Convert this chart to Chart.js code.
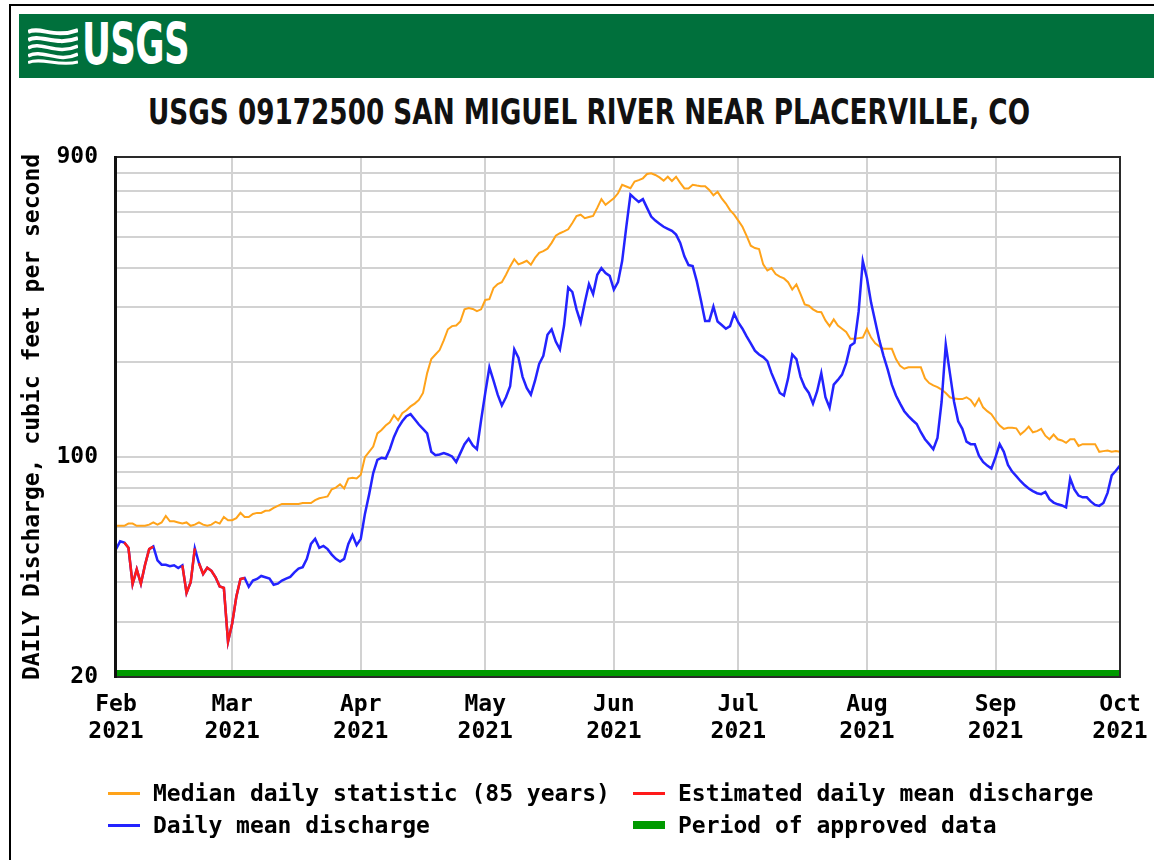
<!DOCTYPE html>
<html><head><meta charset="utf-8">
<script src="https://cdn.jsdelivr.net/npm/chart.js@4.4.0/dist/chart.umd.min.js"></script>
<style>
html,body{margin:0;padding:0;background:#fff;}
body{width:1154px;height:860px;position:relative;overflow:hidden;}
#frame{position:absolute;left:9px;top:4px;width:1200px;height:900px;border-left:2px solid #000;border-top:2px solid #000;}
#header{position:absolute;left:19px;top:14px;width:1135px;height:64px;background:#00703c;}
#logoIcon{position:absolute;left:28px;top:27px;}
#logoText{position:absolute;left:82px;top:16px;color:#fff;font:bold 57px "Liberation Sans Narrow","DejaVu Sans Condensed","Liberation Sans",sans-serif;line-height:1;white-space:nowrap;transform-origin:left top;letter-spacing:-1px;}
#title{position:absolute;left:148px;top:94px;color:#111;font:bold 36px "Liberation Sans Narrow","DejaVu Sans Condensed","Liberation Sans",sans-serif;line-height:1;white-space:nowrap;transform-origin:left top;}
#chart{position:absolute;left:0;top:0;}
#legend{position:absolute;left:108px;top:777px;width:1000px;font:bold 23px "DejaVu Sans Mono",monospace;color:#000;}
.lrow{display:flex;height:32px;line-height:32px;}
.litem{display:flex;align-items:center;white-space:nowrap;}
.litem:first-child{width:525px;}
.sw{width:32px;margin-right:13px;}
</style></head>
<body>
<div id="frame"></div>
<div id="header"></div>
<svg id="logoIcon" width="50" height="38" viewBox="0 0 50 38">
  <g fill="none" stroke="#fff" stroke-linecap="butt">
    <path d="M0 5 C12 -1 26 12 50 3" stroke-width="4"/>
    <path d="M0 13 C12 6 27 20 50 11" stroke-width="4"/>
    <path d="M0 21 C13 13 28 29 50 19" stroke-width="3.5"/>
    <path d="M0 29 C14 21 30 37 50 27" stroke-width="3.5"/>
    <path d="M0 35.5 C14 30 30 40 50 35" stroke-width="3"/>
  </g>
</svg>
<div id="logoText">USGS</div>
<div id="title">USGS 09172500 SAN MIGUEL RIVER NEAR PLACERVILLE, CO</div>
<canvas id="chart" width="1154" height="860"></canvas>
<div id="legend"></div>
<script>
// ---------------- data ----------------
const startDate = '2021-02-01';
const monthTickDays = [0, 28, 59, 89, 120, 150, 181, 212, 242];
const monthLabels = ['Feb', 'Mar', 'Apr', 'May', 'Jun', 'Jul', 'Aug', 'Sep', 'Oct'];
const yearLabels = ['2021', '2021', '2021', '2021', '2021', '2021', '2021', '2021', '2021'];
const yGridValues = [20, 30, 40, 50, 60, 70, 80, 90, 100, 200, 300, 400, 500, 600, 700, 800, 900];
const yLabelValues = [20, 100, 900];

// Daily mean discharge, cfs, Feb 1 .. Oct 1 2021
const dailyMean = [
  51, 54, 53.5, 51.5, 39.5, 44, 39.6, 45.5, 51, 52,
  47, 45.5, 45.5, 45, 45.3, 44.4, 45.3, 37, 40, 51.3,
  46, 42.5, 44.5, 43.5, 41.5, 38.8, 38.4, 25.9, 29.6, 36,
  41, 41.3, 38.7, 40.5, 41, 41.9, 41.5, 41.1, 39.3, 39.6,
  40.5, 41.1, 41.6, 43, 44.2, 44.7, 47.5, 53, 55, 51.5,
  52.2, 51, 49, 47.5, 46.6, 47.5, 53, 56.5, 52.5, 55,
  66, 76, 89, 98, 99.6, 99, 106, 116, 124, 130,
  135, 137, 132, 127, 123, 119, 104, 101.5, 102, 103,
  102, 100.5, 96.5, 103, 110, 114.5, 109, 106, 131, 160,
  193, 175, 158, 146, 155, 168, 220, 207, 180, 166,
  158, 175, 198, 210, 245, 255, 233, 220, 262, 346,
  335, 295, 268, 310, 355, 330, 380, 399, 385, 377,
  341, 360, 420, 540, 684, 665, 648, 661, 620, 582,
  565, 552, 540, 532, 524, 510, 480, 435, 408, 405,
  362, 315, 271, 271, 301, 270, 263, 256, 261, 286,
  268, 256, 242, 230, 218, 212, 208, 202, 185, 172,
  160, 157, 178, 212, 205, 180, 167, 160, 148, 162,
  185, 155, 143.5, 170, 176, 183, 199, 226, 231, 290,
  420, 371, 310, 270, 235, 210, 190, 170, 157, 148,
  140, 135, 131, 127.5, 120, 114, 110, 106, 115, 150,
  228, 185, 150, 130, 123, 112, 110, 110, 101, 96.5,
  94, 92, 100, 110, 104, 94.5, 90, 87, 84, 81.5,
  79.5, 78, 76.8, 76.3, 77.5, 73.5, 71.7, 70.8, 70.2, 69.2,
  85.5, 79, 75.5, 74.5, 74.5, 72.2, 70.5, 70, 71.5, 77,
  87.5, 90.5, 94
];

// Median daily statistic (85 years), cfs
const medianDaily = [
  60.5, 60.5, 60.5, 61.5, 61.5, 60.5, 60.5, 60.5, 61, 62,
  61, 62, 65, 62.5, 62.5, 62, 61.5, 62, 60.5, 61,
  62, 61, 60.5, 61, 62.3, 61.5, 64.5, 63, 63, 64,
  66.5, 64.5, 64.5, 66, 66.5, 66.5, 67.5, 67.7, 69, 70,
  71, 71, 71, 71, 71, 71.5, 71.5, 71.5, 73, 74,
  74.5, 75, 79, 80, 82, 79.5, 85.5, 86, 85.5, 88,
  100, 104, 108, 119, 122, 126, 129, 136, 131, 138,
  141, 145, 148, 152, 160, 185, 205, 212, 219, 235,
  255, 261, 262, 270, 295, 298, 296, 291, 295, 316,
  318, 345, 355, 360, 380, 404, 426, 410, 415, 421,
  409, 430, 446, 452, 460, 480, 506, 515, 522, 530,
  555, 584, 590, 575, 580, 585, 620, 661, 634, 650,
  665, 690, 734, 725, 716, 752, 760, 770, 795, 799,
  789, 775, 757, 779, 755, 779, 745, 715, 715, 734,
  730, 727, 727, 707, 680, 698, 665, 640, 610, 590,
  565, 540, 505, 470, 462, 459, 410, 392, 399, 382,
  375, 370, 360, 341, 354, 330, 306, 303, 295, 290,
  289, 272, 261, 274, 262, 256, 250, 238, 238, 239,
  240, 256, 240, 230, 225, 221, 221, 221, 205, 195,
  191, 193, 193, 193, 193, 178, 172, 169, 167, 164,
  160, 155, 153.5, 153, 153, 155, 152, 145.5, 153.5, 144,
  140, 137, 131, 126, 123, 124, 124, 123.5, 118, 121,
  125, 120, 121, 123, 117, 114, 118, 114, 113, 111,
  114, 114, 108.6, 110, 110, 110, 110, 104, 104.5, 105,
  104, 104.5, 104
];

// Day ranges (days after Feb 1) with estimated values
const estimatedRuns = [[2, 9], [16, 19], [20, 31]];
// Period of approved data (days after Feb 1)
const approvedPeriod = [0, 242];

const seriesLabels = ['Median daily statistic (85 years)', 'Estimated daily mean discharge', 'Daily mean discharge', 'Period of approved data'];
const seriesColors = ['#ffa31a', '#ff1a1a', '#2323ff', '#009a00'];

// ---------------- build ----------------
const meanPoints = dailyMean.map((v, i) => ({x: i, y: v}));
const medianPoints = medianDaily.map((v, i) => ({x: i, y: v}));
const estPoints = [];
estimatedRuns.forEach(([a, b], k) => {
  if (k > 0) estPoints.push({x: a - 0.5, y: null});
  for (let d = a; d <= b; d++) estPoints.push({x: d, y: dailyMean[d]});
});

const MONO = '"DejaVu Sans Mono", monospace';
Chart.defaults.font.family = MONO;

const approvedBar = {
  id: 'approvedBar',
  afterDatasetsDraw(chart) {
    const {ctx, chartArea, scales} = chart;
    const x0 = scales.x.getPixelForValue(approvedPeriod[0]);
    const x1 = scales.x.getPixelForValue(approvedPeriod[1]);
    ctx.save();
    ctx.fillStyle = seriesColors[3];
    ctx.fillRect(x0, chartArea.bottom - 7, x1 - x0, 7);
    ctx.restore();
  }
};
const frame = {
  id: 'frame',
  afterDraw(chart) {
    const {ctx, chartArea: a} = chart;
    ctx.save();
    ctx.strokeStyle = '#2a2a2a';
    ctx.lineWidth = 2;
    ctx.strokeRect(a.left, a.top, a.right - a.left, a.bottom - a.top);
    ctx.fillStyle = '#111';
    ctx.fillRect(a.left - 2, a.top - 1, 3, a.bottom - a.top + 2);
    ctx.restore();
  }
};

new Chart(document.getElementById('chart'), {
  type: 'line',
  data: {
    datasets: [
      {label: seriesLabels[2], data: meanPoints, borderColor: seriesColors[2], borderWidth: 2.5, pointRadius: 0, tension: 0, order: 2},
      {label: seriesLabels[1], data: estPoints, borderColor: seriesColors[1], borderWidth: 2.5, pointRadius: 0, tension: 0, spanGaps: false, order: 1},
      {label: seriesLabels[0], data: medianPoints, borderColor: seriesColors[0], borderWidth: 2, pointRadius: 0, tension: 0, order: 3}
    ]
  },
  options: {
    responsive: false,
    animation: false,
    devicePixelRatio: 1,
    layout: {padding: {left: 10, right: 34, top: 157, bottom: 93}},
    plugins: {legend: {display: false}, tooltip: {enabled: false}, title: {display: false}},
    scales: {
      x: {
        type: 'linear', min: 0, max: 242,
        afterBuildTicks: s => { s.ticks = monthTickDays.map(v => ({value: v})); },
        afterFit: s => { s.height = 90; s.paddingLeft = 0; s.paddingRight = 0; },
        ticks: {
          autoSkip: false, maxRotation: 0, padding: 14, color: '#000',
          font: {family: MONO, size: 23, weight: 'bold', lineHeight: 1.18},
          callback: (v, i) => [monthLabels[i], yearLabels[i]]
        },
        grid: {color: '#d2d2d2', lineWidth: 2, drawTicks: false},
        border: {display: false}
      },
      y: {
        type: 'logarithmic', min: 20, max: 900,
        afterBuildTicks: s => { s.ticks = yGridValues.map(v => ({value: v})); },
        afterFit: s => { s.width = 106; },
        ticks: {
          autoSkip: false, padding: 18, color: '#000',
          font: {family: MONO, size: 23, weight: 'bold'},
          callback: v => (yLabelValues.includes(v) ? String(v) : '')
        },
        grid: {color: '#d2d2d2', lineWidth: 2, drawTicks: false},
        border: {display: false},
        title: {
          display: true, text: 'DAILY Discharge, cubic feet per second', color: '#000',
          font: {family: MONO, size: 23, weight: 'bold', lineHeight: 1.2},
          padding: {top: 9, bottom: 0}
        }
      }
    }
  },
  plugins: [approvedBar, frame]
});

// ---------------- legend ----------------
const legendEntries = [
  {label: seriesLabels[0], color: seriesColors[0], h: 3},
  {label: seriesLabels[1], color: seriesColors[1], h: 3},
  {label: seriesLabels[2], color: seriesColors[2], h: 3},
  {label: seriesLabels[3], color: seriesColors[3], h: 8}
];
const legend = document.getElementById('legend');
for (let r = 0; r < 2; r++) {
  const row = document.createElement('div');
  row.className = 'lrow';
  for (let c = 0; c < 2; c++) {
    const e = legendEntries[r * 2 + c];
    const it = document.createElement('div');
    it.className = 'litem';
    const sw = document.createElement('span');
    sw.className = 'sw';
    sw.style.height = e.h + 'px';
    sw.style.background = e.color;
    const tx = document.createElement('span');
    tx.textContent = e.label;
    it.appendChild(sw); it.appendChild(tx);
    row.appendChild(it);
  }
  legend.appendChild(row);
}

// fit header texts to the reference widths
function fitWidth(id, w) {
  const el = document.getElementById(id);
  const r = el.getBoundingClientRect().width;
  el.style.transform = 'scaleX(' + (w / r) + ')';
}
fitWidth('title', 882);
fitWidth('logoText', 107);
</script>
</body></html>
